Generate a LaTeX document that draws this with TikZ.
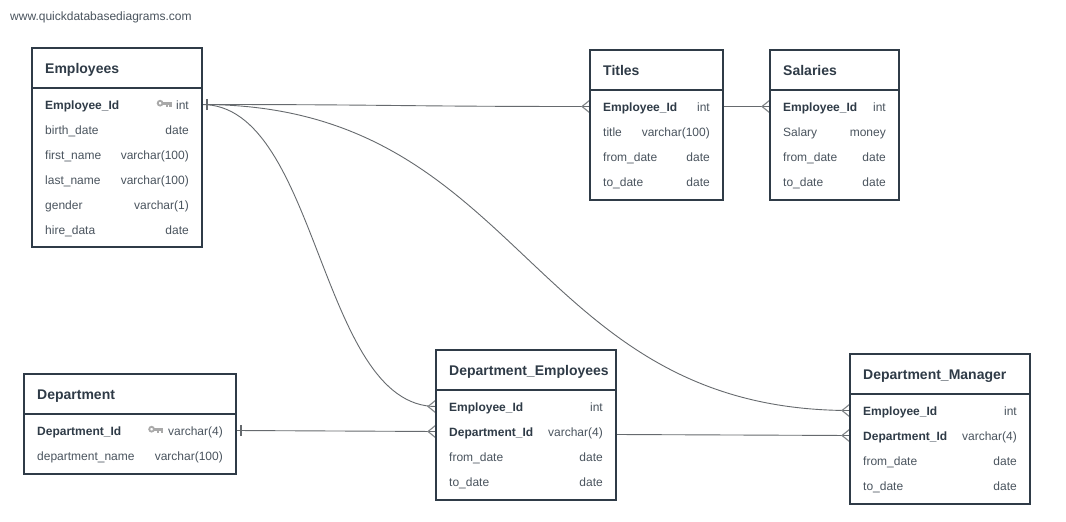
\documentclass[tikz,border=0pt]{standalone}
\usepackage{fontspec}
\setmainfont{Liberation Sans}
\definecolor{ink}{HTML}{2F3B47}
\definecolor{txt}{HTML}{4A545E}
\definecolor{rel}{HTML}{666A6E}
\definecolor{crowc}{HTML}{808487}
\definecolor{keyc}{HTML}{A9A9A9}
\tikzset{
  x=1pt,y=-1pt,
  tbox/.style={draw=ink,line width=2pt,fill=white,inner sep=0pt,outer sep=0pt,anchor=north west},
  hdrtxt/.style={anchor=base west,inner sep=0pt,text=ink,font=\fontsize{14}{16}\selectfont\bfseries},
  lefttxt/.style={anchor=base west,inner sep=0pt,text=txt,font=\fontsize{12}{14}\selectfont},
  keytxt/.style={anchor=base west,inner sep=0pt,text=ink,font=\fontsize{12}{14}\selectfont\bfseries},
  righttxt/.style={anchor=base east,inner sep=0pt,text=txt,font=\fontsize{12}{14}\selectfont},
  relline/.style={draw=rel,line width=0.9pt},
  urltxt/.style={anchor=base west,inner sep=0pt,text=txt,font=\fontsize{12}{14}\selectfont},
}
% name, x1, y1, x2, y2, header y, title
\newcommand{\tbl}[7]{%
  \pgfmathsetmacro{\boxw}{#4-#2}\pgfmathsetmacro{\boxh}{#5-#3}%
  \node[tbox,minimum width=\boxw pt,minimum height=\boxh pt] (#1) at (#2,#3) {};
  \draw[ink,line width=2pt] (#2,#6) -- (#4,#6);
  \node[hdrtxt] (#1T) at (#2+13,{(#3+#6)/2+5}) {#7};
}
% name, xl, xr, y, style, left, right
\newcommand{\rowt}[7]{%
  \node[#5] (#1L) at (#2,#4+4.5) {#6};
  \node[righttxt] (#1R) at (#3,#4+4.5) {#7};
}
\newcommand{\crow}[1]{\draw[draw=crowc,line width=1.1pt] ([yshift=-6.5pt]#1) -- ([xshift=-8pt]#1) -- ([yshift=6.5pt]#1);}
\newcommand{\onebar}[2]{\draw[relline,line width=1.3pt] ([xshift=#2pt,yshift=-5.5pt]#1) -- ([xshift=#2pt,yshift=5.5pt]#1);}
\newcommand{\keyicon}[2]{%
  \draw[keyc,line width=1.8pt] (#1+3.6,#2-0.3) circle (2.4);
  \fill[keyc] (#1+5.5,#2-1.7) rectangle (#1+15,#2+1);
  \fill[keyc] (#1+9,#2) rectangle (#1+11,#2+3);
  \fill[keyc] (#1+12.5,#2) rectangle (#1+15,#2+3);
}
\begin{document}
\begin{tikzpicture}
\useasboundingbox (0,0) rectangle (1066,522);
\fill[white] (0,0) rectangle (1066,522);
\node[urltxt] (url) at (10,20) {www.quickdatabasediagrams.com};

% anchors of the relations
\coordinate (empid) at (202,104.5);
\coordinate (tid) at (590,106.5);
\coordinate (tidr) at (723,106.5);
\coordinate (sid) at (770,106.5);
\coordinate (depid) at (236,430.5);
\coordinate (deeid) at (436,406.5);
\coordinate (dedid) at (436,431.5);
\coordinate (dedidr) at (616,434.5);
\coordinate (dmeid) at (850,410.5);
\coordinate (dmdid) at (850,435.5);

% connectors
\draw[relline] (empid) .. controls (396,104.5) and (396,106.5) .. (tid);
\draw[relline] (tidr) -- (sid);
\draw[relline] (empid) .. controls (319,104.5) and (319,406.5) .. (deeid);
\draw[relline] (empid) .. controls (526,104.5) and (526,410.5) .. (dmeid);
\draw[relline] (depid) .. controls (336,430.5) and (336,431.5) .. (dedid);
\draw[relline] (dedidr) .. controls (733,434.5) and (733,435.5) .. (dmdid);
\crow{tid}\crow{sid}\crow{deeid}\crow{dedid}\crow{dmeid}\crow{dmdid}
\onebar{empid}{5}\onebar{depid}{5}

% Employees
\tbl{emp}{32}{48}{202}{247}{88}{Employees}
\rowt{e1}{45}{189}{104.5}{keytxt}{Employee\_Id}{int}
\rowt{e2}{45}{189}{129.5}{lefttxt}{birth\_date}{date}
\rowt{e3}{45}{189}{154.5}{lefttxt}{first\_name}{varchar(100)}
\rowt{e4}{45}{189}{179.5}{lefttxt}{last\_name}{varchar(100)}
\rowt{e5}{45}{189}{204.5}{lefttxt}{gender}{varchar(1)}
\rowt{e6}{45}{189}{229.5}{lefttxt}{hire\_data}{date}
\keyicon{156.5}{103.5}

% Titles
\tbl{tit}{590}{50}{723}{200}{90}{Titles}
\rowt{t1}{603}{710}{106.5}{keytxt}{Employee\_Id}{int}
\rowt{t2}{603}{710}{131.5}{lefttxt}{title}{varchar(100)}
\rowt{t3}{603}{710}{156.5}{lefttxt}{from\_date}{date}
\rowt{t4}{603}{710}{181.5}{lefttxt}{to\_date}{date}

% Salaries
\tbl{sal}{770}{50}{899}{200}{90}{Salaries}
\rowt{s1}{783}{886}{106.5}{keytxt}{Employee\_Id}{int}
\rowt{s2}{783}{886}{131.5}{lefttxt}{Salary}{money}
\rowt{s3}{783}{886}{156.5}{lefttxt}{from\_date}{date}
\rowt{s4}{783}{886}{181.5}{lefttxt}{to\_date}{date}

% Department
\tbl{dep}{24}{374}{236}{474}{414}{Department}
\rowt{d1}{37}{223}{430.5}{keytxt}{Department\_Id}{varchar(4)}
\rowt{d2}{37}{223}{455.5}{lefttxt}{department\_name}{varchar(100)}
\keyicon{148}{429.5}

% Department_Employees
\tbl{de}{436}{350}{616}{500}{390}{Department\_Employees}
\rowt{de1}{449}{603}{406.5}{keytxt}{Employee\_Id}{int}
\rowt{de2}{449}{603}{431.5}{keytxt}{Department\_Id}{varchar(4)}
\rowt{de3}{449}{603}{456.5}{lefttxt}{from\_date}{date}
\rowt{de4}{449}{603}{481.5}{lefttxt}{to\_date}{date}

% Department_Manager
\tbl{dm}{850}{354}{1030}{504}{394}{Department\_Manager}
\rowt{dm1}{863}{1017}{410.5}{keytxt}{Employee\_Id}{int}
\rowt{dm2}{863}{1017}{435.5}{keytxt}{Department\_Id}{varchar(4)}
\rowt{dm3}{863}{1017}{460.5}{lefttxt}{from\_date}{date}
\rowt{dm4}{863}{1017}{485.5}{lefttxt}{to\_date}{date}
\end{tikzpicture}
\end{document}
